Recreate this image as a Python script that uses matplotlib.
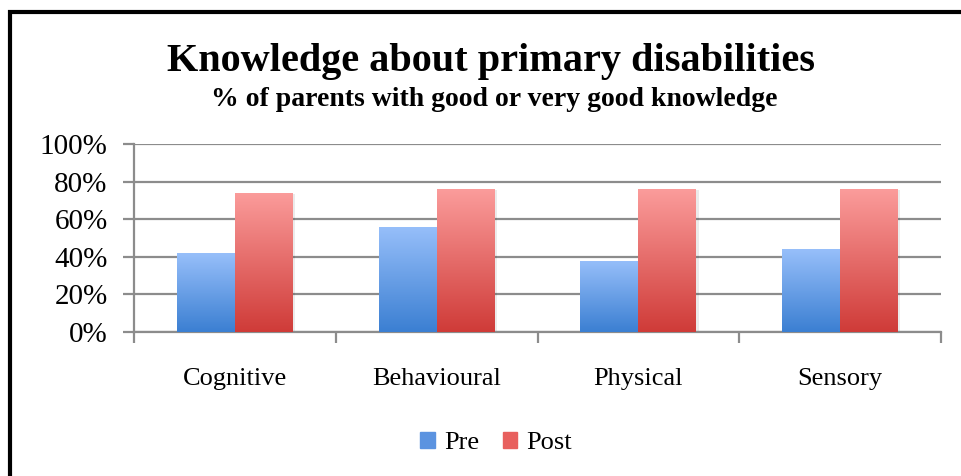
import matplotlib.pyplot as plt
import numpy as np
from matplotlib.colors import LinearSegmentedColormap
from matplotlib.patches import Rectangle

categories = ["Cognitive", "Behavioural", "Physical", "Sensory"]
pre = [42, 56, 38, 44]
post = [74, 76, 76, 76]
yticks = [0, 20, 40, 60, 80, 100]
ytick_labels = ["0%", "20%", "40%", "60%", "80%", "100%"]

serif = ["Liberation Serif", "DejaVu Serif"]
plt.rcParams['font.family'] = serif

W, H = 961, 476
fig = plt.figure(figsize=(W / 100, H / 100), dpi=100)
ax = fig.add_axes([134 / W, (H - 332) / H, 807 / W, 188 / H])

blue_cmap = LinearSegmentedColormap.from_list("blue", ["#3b7fd2", "#97bffa"])
red_cmap = LinearSegmentedColormap.from_list("red", ["#cf3b38", "#fb9c9b"])

x = np.arange(len(categories))
width = 0.287


def gradient_bars(xpos, vals, cmap, label):
    bars = ax.bar(xpos, vals, width, color=cmap(0.5), label=label, zorder=3)
    grad = np.linspace(0, 1, 256).reshape(-1, 1)
    for b in bars:
        bx, by = b.get_x(), b.get_y()
        bw, bh = b.get_width(), b.get_height()
        # soft shadow
        ax.add_patch(Rectangle((bx + 0.012, by), bw, bh - 0.6, color="#000000",
                               alpha=0.08, zorder=2, lw=0))
        im = ax.imshow(grad, extent=[bx, bx + bw, by, by + bh], origin="lower",
                       cmap=cmap, aspect="auto", zorder=3.5)
        im.set_clip_path(b)
    return bars


gradient_bars(x - width / 2, pre, blue_cmap, "Pre")
gradient_bars(x + width / 2, post, red_cmap, "Post")

ax.set_xlim(-0.5, len(categories) - 0.5)
ax.set_ylim(0, 100)
ax.set_yticks(yticks)
ax.set_yticklabels(ytick_labels, fontsize=21)
ax.yaxis.grid(True, color="#8c8c8c", linewidth=1.6, zorder=0)
ax.set_axisbelow(True)

# category ticks at the boundaries, labels centred
ax.set_xticks(np.arange(len(categories) + 1) - 0.5)
ax.set_xticklabels([])
ax.set_xticks(x, minor=True)
ax.set_xticklabels(categories, minor=True, fontsize=19)
ax.tick_params(axis="x", which="minor", length=0, pad=26)
ax.tick_params(axis="x", which="major", length=8, width=1.6, color="#8c8c8c")
ax.tick_params(axis="y", length=8, width=1.6, color="#8c8c8c", pad=11)

for side in ["top", "right"]:
    ax.spines[side].set_visible(False)
for side in ["left", "bottom"]:
    ax.spines[side].set_color("#8c8c8c")
    ax.spines[side].set_linewidth(1.6)

fig.text(491 / W, 1 - 61 / H, "Knowledge about primary disabilities",
         ha="center", va="center", fontsize=29, fontweight="bold")
fig.text(494 / W, 1 - 100 / H, "% of parents with good or very good knowledge",
         ha="center", va="center", fontsize=20, fontweight="bold")

handles = [Rectangle((0, 0), 1, 1, color="#5b93e0"),
           Rectangle((0, 0), 1, 1, color="#e8605e")]
fig.legend(handles, ["Pre", "Post"], loc="center", bbox_to_anchor=(496 / W, 1 - 443 / H),
           ncol=2, frameon=False, fontsize=19, handlelength=0.55, handleheight=0.55,
           handletextpad=0.35, columnspacing=0.9)

# border of the frame
fig.add_artist(Rectangle((10 / W, -0.1), 1.2, 1 - 12 / H + 0.1, transform=fig.transFigure,
                         fill=False, edgecolor="black", linewidth=3))

fig.savefig("out.png", dpi=100)
